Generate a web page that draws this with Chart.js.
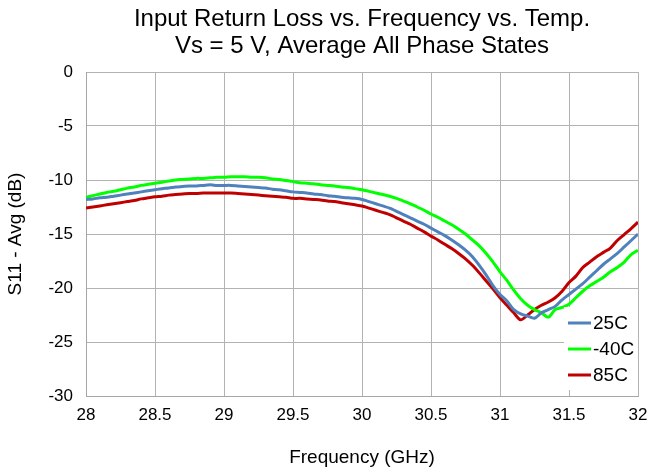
<!DOCTYPE html>
<html lang="en">
<head>
<meta charset="UTF-8">
<title>Input Return Loss vs. Frequency vs. Temp.</title>
<script src="https://cdn.jsdelivr.net/npm/chart.js"></script>
<style>
  html, body { margin: 0; padding: 0; background: #fff; }
  #wrap { width: 653px; height: 470px; }
</style>
</head>
<body>
<div id="wrap"><canvas id="s11Chart"></canvas></div>
<script>
// frequency points (GHz), 0.05 GHz step
const freqGHz = [
  28.00, 28.05, 28.10, 28.15, 28.20, 28.25, 28.30, 28.35, 28.40, 28.45,
  28.50, 28.55, 28.60, 28.65, 28.70, 28.75, 28.80, 28.85, 28.90, 28.95,
  29.00, 29.05, 29.10, 29.15, 29.20, 29.25, 29.30, 29.35, 29.40, 29.45,
  29.50, 29.55, 29.60, 29.65, 29.70, 29.75, 29.80, 29.85, 29.90, 29.95,
  30.00, 30.05, 30.10, 30.15, 30.20, 30.25, 30.30, 30.35, 30.40, 30.45,
  30.50, 30.55, 30.60, 30.65, 30.70, 30.75, 30.80, 30.85, 30.90, 30.95,
  31.00, 31.05, 31.10, 31.15, 31.20, 31.25, 31.30, 31.35, 31.40, 31.45,
  31.50, 31.55, 31.60, 31.65, 31.70, 31.75, 31.80, 31.85, 31.90, 31.95,
  32.00
];

// S11 (dB) per temperature
const s11_25C = [
  -11.8, -11.75, -11.65, -11.6, -11.5, -11.4, -11.3, -11.2, -11.1, -11.0,
  -10.9, -10.8, -10.75, -10.65, -10.6, -10.55, -10.55, -10.5, -10.45, -10.5,
  -10.5, -10.5, -10.55, -10.6, -10.65, -10.7, -10.75, -10.85, -10.9, -11.0,
  -11.1, -11.15, -11.2, -11.3, -11.35, -11.45, -11.5, -11.6, -11.65, -11.7,
  -11.8, -12.0, -12.2, -12.4, -12.6, -12.9, -13.2, -13.5, -13.8, -14.1,
  -14.45, -14.8, -15.15, -15.55, -16.0, -16.5, -17.1, -17.9, -18.8, -19.8,
  -20.6, -21.2, -22.0, -22.4, -22.6, -22.8, -22.3, -22.0, -21.7, -21.1,
  -20.6, -20.1, -19.6, -19.0, -18.4, -17.8, -17.3, -16.8, -16.2, -15.6,
  -15.0
];
const s11_m40C = [
  -11.6, -11.45, -11.3, -11.15, -11.05, -10.9, -10.75, -10.65, -10.5, -10.4,
  -10.3, -10.2, -10.1, -10.0, -9.95, -9.9, -9.85, -9.85, -9.8, -9.75,
  -9.75, -9.7, -9.7, -9.7, -9.75, -9.75, -9.8, -9.9, -9.95, -10.05,
  -10.15, -10.25, -10.3, -10.35, -10.45, -10.5, -10.55, -10.65, -10.7, -10.8,
  -10.9, -11.05, -11.2, -11.35, -11.5, -11.7, -11.95, -12.2, -12.5, -12.8,
  -13.15, -13.45, -13.8, -14.15, -14.55, -15.0, -15.55, -16.1, -16.8, -17.6,
  -18.5, -19.3, -20.2, -21.0, -21.6, -22.0, -22.3, -22.7, -22.0, -21.8,
  -21.5, -20.9, -20.3, -19.8, -19.4, -19.0, -18.5, -18.1, -17.6, -16.9,
  -16.5
];
const s11_85C = [
  -12.6, -12.5, -12.4, -12.3, -12.2, -12.1, -12.0, -11.9, -11.75, -11.65,
  -11.55, -11.5, -11.4, -11.35, -11.3, -11.25, -11.25, -11.2, -11.2, -11.2,
  -11.2, -11.2, -11.25, -11.3, -11.35, -11.4, -11.45, -11.5, -11.55, -11.6,
  -11.7, -11.7, -11.75, -11.8, -11.85, -11.95, -12.0, -12.1, -12.2, -12.3,
  -12.4, -12.6, -12.8, -13.0, -13.2, -13.5, -13.8, -14.1, -14.45, -14.8,
  -15.2, -15.55, -15.95, -16.35, -16.8, -17.3, -17.9, -18.6, -19.35, -20.1,
  -20.9, -21.6, -22.3, -22.95, -22.5, -22.0, -21.6, -21.3, -20.9, -20.3,
  -19.5, -18.9, -18.1, -17.6, -17.1, -16.7, -16.3, -15.6, -15.05, -14.5,
  -13.9
];

const seriesNames = ['25C', '-40C', '85C'];
const seriesColors = ['#4F81BD', '#00FF00', '#C00000'];
const titleLines = ['Input Return Loss vs. Frequency vs. Temp.', 'Vs = 5 V, Average All Phase States'];

const toPoints = vals => freqGHz.map((f, i) => ({ x: f, y: vals[i] }));

// title centred over the plot area
const titlePlugin = {
  id: 'plotTitle',
  afterDraw(chart) {
    const { ctx, chartArea } = chart;
    const cx = (chartArea.left + chartArea.right) / 2;
    ctx.save();
    ctx.fillStyle = '#000';
    ctx.font = '24px Arial, "Liberation Sans", sans-serif';
    ctx.textAlign = 'center';
    ctx.textBaseline = 'middle';
    ctx.fillText(titleLines[0], cx, 19);
    ctx.fillText(titleLines[1], cx, 46);
    ctx.restore();
  }
};

// Excel style legend box inside the plot, lower right
const legendPlugin = {
  id: 'boxLegend',
  afterDatasetsDraw(chart) {
    const { ctx, chartArea } = chart;
    const x0 = chartArea.right - 74;
    const y0 = chartArea.bottom - 89;
    ctx.save();
    ctx.fillStyle = '#fff';
    ctx.fillRect(x0, y0, 74, 83);
    ctx.font = '19px Arial, "Liberation Sans", sans-serif';
    ctx.textBaseline = 'middle';
    ctx.textAlign = 'left';
    chart.data.datasets.forEach((ds, i) => {
      const y = y0 + 16 + i * 26;
      ctx.strokeStyle = ds.borderColor;
      ctx.lineWidth = 3;
      ctx.beginPath();
      ctx.moveTo(x0 + 4, y);
      ctx.lineTo(x0 + 27, y);
      ctx.stroke();
      ctx.fillStyle = '#000';
      ctx.fillText(ds.label, x0 + 29, y + 1);
    });
    ctx.restore();
  }
};

const ctx = document.getElementById('s11Chart').getContext('2d');
const s11Chart = new Chart(ctx, {
  type: 'line',
  data: {
    datasets: [s11_25C, s11_m40C, s11_85C].map((vals, i) => ({
      label: seriesNames[i],
      data: toPoints(vals),
      borderColor: seriesColors[i],
      backgroundColor: seriesColors[i],
      borderWidth: 3,
      pointRadius: 0,
      tension: 0.3,
      fill: false
    }))
  },
  options: {
    responsive: true,
    maintainAspectRatio: false,
    animation: false,
    layout: { padding: { top: 72, right: 15, left: 0, bottom: 0 } },
    plugins: {
      legend: { display: false },
      title: { display: false },
      tooltip: { enabled: false }
    },
    scales: {
      x: {
        type: 'linear',
        min: 28,
        max: 32,
        afterFit: s => { s.height = 74; s.paddingRight = 0; s.paddingLeft = 0; },
        ticks: {
          stepSize: 0.5,
          color: '#000',
          padding: 9,
          callback: v => String(Number(v.toFixed(1))),
          font: { family: 'Arial, "Liberation Sans", sans-serif', size: 17 }
        },
        grid: { color: '#B3B3B3', lineWidth: 1, drawTicks: false },
        border: { color: '#A6A6A6', width: 1 },
        title: {
          display: true,
          text: 'Frequency (GHz)',
          color: '#000',
          padding: { top: 4, bottom: 1 },
          font: { family: 'Arial, "Liberation Sans", sans-serif', size: 19 }
        }
      },
      y: {
        min: -30,
        max: 0,
        afterFit: s => { s.width = 86; },
        ticks: {
          stepSize: 5,
          color: '#000',
          padding: 13,
          font: { family: 'Arial, "Liberation Sans", sans-serif', size: 17 }
        },
        grid: { color: '#B3B3B3', lineWidth: 1, drawTicks: false },
        border: { color: '#A6A6A6', width: 1 },
        title: {
          display: true,
          text: 'S11 - Avg (dB)',
          color: '#000',
          padding: { bottom: 4 },
          font: { family: 'Arial, "Liberation Sans", sans-serif', size: 19 }
        }
      }
    }
  },
  plugins: [titlePlugin, legendPlugin]
});
</script>
</body>
</html>
